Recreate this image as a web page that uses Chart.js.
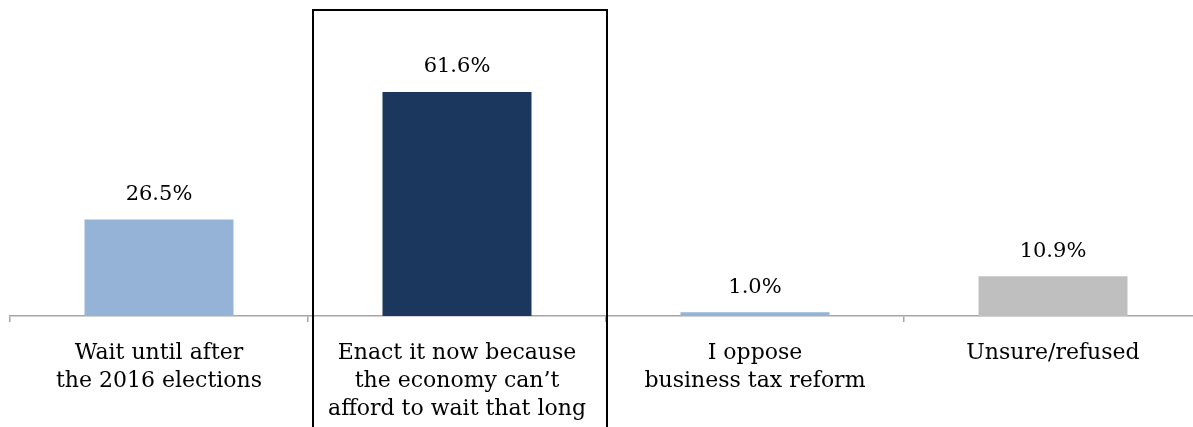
<!DOCTYPE html>
<html lang="en">
<head>
    <meta charset="UTF-8">
    <title>Business tax reform timing</title>
    <script src="https://cdn.jsdelivr.net/npm/chart.js"></script>
    <style>
        body { margin: 0; overflow: hidden; background: #fff; }
        .chart-container {
            position: relative;
            width: 1215px;
            height: 427px;
        }
    </style>
</head>
<body>
    <div class="chart-container"><canvas id="chart"></canvas></div>

    <script>
        // data
        const categories = [
            ['Wait until after', 'the 2016 elections'],
            ['Enact it now because', 'the economy can\u2019t', 'afford to wait that long'],
            ['I oppose', 'business tax reform'],
            ['Unsure/refused']
        ];
        const values = [26.5, 61.6, 1.0, 10.9];
        const barColors = ['#95B3D7', '#1B375E', '#95B3D7', '#BFBFBF'];
        const highlightIndex = 1;

        const FONT = '"DejaVu Serif", Georgia, serif';

        // value labels above each bar
        const valueLabels = {
            id: 'valueLabels',
            afterDatasetsDraw(chart) {
                const ctx = chart.ctx;
                const meta = chart.getDatasetMeta(0);
                ctx.save();
                ctx.font = '21px ' + FONT;
                ctx.fillStyle = '#000';
                ctx.textAlign = 'center';
                ctx.textBaseline = 'middle';
                meta.data.forEach((bar, i) => {
                    ctx.fillText(values[i].toFixed(1) + '%', bar.x, bar.y - 25);
                });
                ctx.restore();
            }
        };

        // black frame around the highlighted category
        const highlightBox = {
            id: 'highlightBox',
            afterDraw(chart) {
                const x = chart.scales.x;
                const w = x.getPixelForValue(1) - x.getPixelForValue(0);
                const cx = x.getPixelForValue(highlightIndex);
                const ctx = chart.ctx;
                ctx.save();
                ctx.strokeStyle = '#000';
                ctx.lineWidth = 2;
                ctx.strokeRect(cx - w / 2 + 5, 10, w - 4, chart.height + 10);
                ctx.restore();
            }
        };

        new Chart(document.getElementById('chart').getContext('2d'), {
            type: 'bar',
            data: {
                labels: categories,
                datasets: [{
                    data: values,
                    backgroundColor: barColors,
                    barPercentage: 0.5,
                    categoryPercentage: 1.0
                }]
            },
            options: {
                responsive: true,
                maintainAspectRatio: false,
                animation: false,
                layout: { padding: { left: 10, right: 13, top: 25, bottom: 0 } },
                plugins: {
                    legend: { display: false },
                    tooltip: { enabled: false }
                },
                scales: {
                    x: {
                        afterFit(scale) { scale.height = 111; },
                        grid: {
                            display: true,
                            drawOnChartArea: false,
                            drawTicks: true,
                            tickLength: 6,
                            color: '#A6A6A6',
                            lineWidth: 1.5
                        },
                        border: { display: true, color: '#A6A6A6', width: 1.5 },
                        ticks: {
                            color: '#000',
                            font: { family: FONT, size: 22, lineHeight: 1.28 },
                            padding: 17,
                            maxRotation: 0,
                            autoSkip: false
                        }
                    },
                    y: {
                        display: false,
                        min: 0,
                        max: 80
                    }
                }
            },
            plugins: [valueLabels, highlightBox]
        });
    </script>
</body>
</html>
